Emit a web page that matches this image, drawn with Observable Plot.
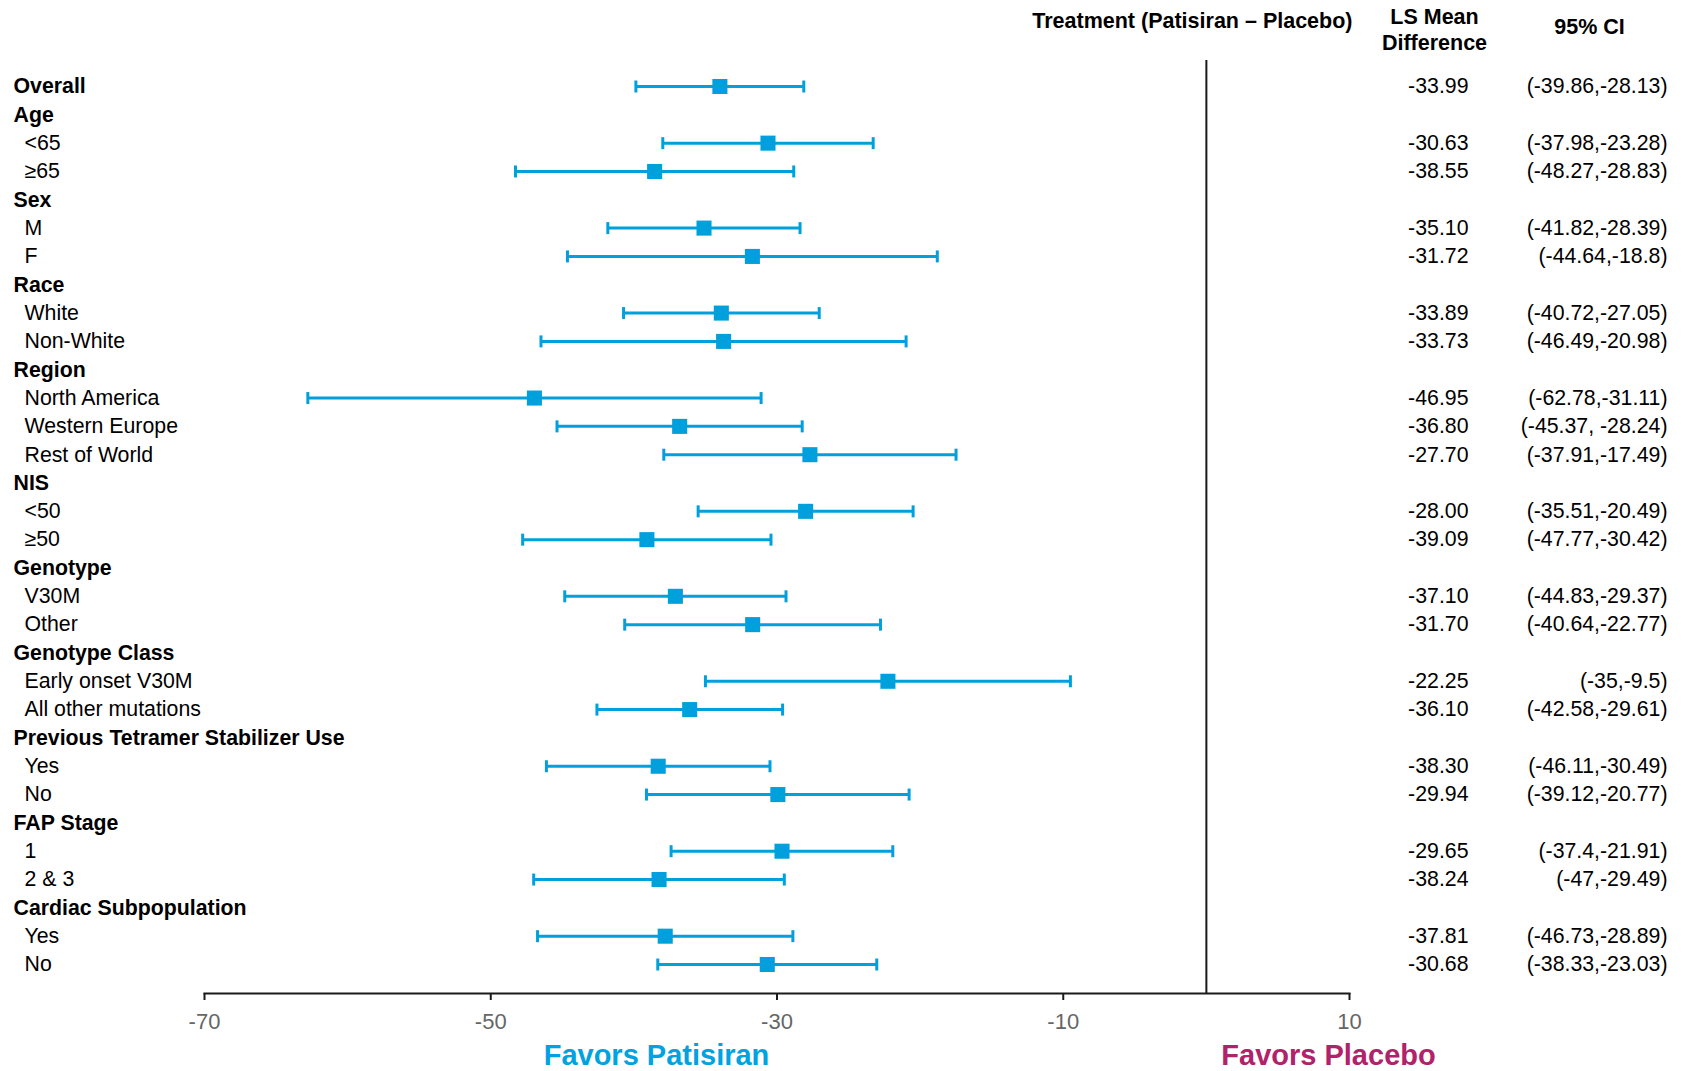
<!DOCTYPE html>
<html><head><meta charset="utf-8">
<script src="https://cdn.jsdelivr.net/npm/d3@7"></script>
<script src="https://cdn.jsdelivr.net/npm/@observablehq/plot@0.6"></script>
<style>body{margin:0;background:#fff;}</style>
</head><body><div id="chart"></div>
<script>
const labels = ["Overall","Age","<65","≥65","Sex","M","F","Race","White","Non-White","Region","North America","Western Europe","Rest of World","NIS","<50","≥50","Genotype","V30M","Other","Genotype Class","Early onset V30M","All other mutations","Previous Tetramer Stabilizer Use","Yes","No","FAP Stage","1","2 & 3","Cardiac Subpopulation","Yes","No"];
const means = [-33.99,null,-30.63,-38.55,null,-35.10,-31.72,null,-33.89,-33.73,null,-46.95,-36.80,-27.70,null,-28.00,-39.09,null,-37.10,-31.70,null,-22.25,-36.10,null,-38.30,-29.94,null,-29.65,-38.24,null,-37.81,-30.68];
const lower = [-39.86,null,-37.98,-48.27,null,-41.82,-44.64,null,-40.72,-46.49,null,-62.78,-45.37,-37.91,null,-35.51,-47.77,null,-44.83,-40.64,null,-35,-42.58,null,-46.11,-39.12,null,-37.4,-47,null,-46.73,-38.33];
const upper = [-28.13,null,-23.28,-28.83,null,-28.39,-18.8,null,-27.05,-20.98,null,-31.11,-28.24,-17.49,null,-20.49,-30.42,null,-29.37,-22.77,null,-9.5,-29.61,null,-30.49,-20.77,null,-21.91,-29.49,null,-28.89,-23.03];
const ciLabels = ["(-39.86,-28.13)",null,"(-37.98,-23.28)","(-48.27,-28.83)",null,"(-41.82,-28.39)","(-44.64,-18.8)",null,"(-40.72,-27.05)","(-46.49,-20.98)",null,"(-62.78,-31.11)","(-45.37, -28.24)","(-37.91,-17.49)",null,"(-35.51,-20.49)","(-47.77,-30.42)",null,"(-44.83,-29.37)","(-40.64,-22.77)",null,"(-35,-9.5)","(-42.58,-29.61)",null,"(-46.11,-30.49)","(-39.12,-20.77)",null,"(-37.4,-21.91)","(-47,-29.49)",null,"(-46.73,-28.89)","(-38.33,-23.03)"];
const xTicks = [-70,-50,-30,-10,10];
const headerTreatment = "Treatment (Patisiran – Placebo)";
const headerMean = "LS Mean\nDifference";
const headerCI = "95% CI";
const favorsLeft = "Favors Patisiran";
const favorsRight = "Favors Placebo";

const rows = labels.map((label, i) => ({i, label, mean: means[i], lo: lower[i], hi: upper[i], ci: ciLabels[i], bold: i === 0 || means[i] == null}));
const est = rows.filter(d => d.mean != null);

const blue = "#00a0dc";
const capSymbol = {draw(ctx, size) { ctx.moveTo(0, -6); ctx.lineTo(0, 6); }};

const chart = Plot.plot({
  width: 1682, height: 1071,
  marginLeft: 204, marginRight: 333, marginTop: 60, marginBottom: 78,
  style: {fontFamily: '"Liberation Sans", Arial, sans-serif', fontSize: "21.3px", color: "#000", background: "#fff"},
  x: {domain: [-70, 10]},
  y: {type: "point", domain: d3.range(labels.length), range: [86, 964], padding: 0, round: false, axis: null},
  marks: [
    Plot.frame({anchor: "bottom", stroke: "#1a1a1a", strokeWidth: 2}),
    Plot.axisX({ticks: xTicks, tickSize: 7, tickPadding: 13, stroke: "#1a1a1a", strokeWidth: 2, fill: "#666", fontSize: 22, label: null, tickFormat: d => String(d)}),
    Plot.ruleX([0], {stroke: "#1a1a1a", strokeWidth: 2}),
    Plot.ruleY(est, {y: "i", x1: "lo", x2: "hi", stroke: blue, strokeWidth: 3}),
    Plot.dot(est, {y: "i", x: "lo", symbol: capSymbol, stroke: blue, fill: "none", strokeWidth: 3, r: 6}),
    Plot.dot(est, {y: "i", x: "hi", symbol: capSymbol, stroke: blue, fill: "none", strokeWidth: 3, r: 6}),
    Plot.dot(est, {y: "i", x: "mean", symbol: "square", fill: blue, r: 8.5}),
    Plot.text(rows.filter(d => d.bold), {y: "i", text: "label", frameAnchor: "left", textAnchor: "start", dx: -191, fontWeight: "bold"}),
    Plot.text(rows.filter(d => !d.bold), {y: "i", text: "label", frameAnchor: "left", textAnchor: "start", dx: -180}),
    Plot.text(est, {y: "i", text: d => d.mean.toFixed(2), frameAnchor: "right", textAnchor: "end", dx: 119}),
    Plot.text(est, {y: "i", text: "ci", frameAnchor: "right", textAnchor: "end", dx: 318}),
    Plot.text([headerTreatment], {frameAnchor: "top-right", lineAnchor: "middle", textAnchor: "end", dx: 3, dy: -39, fontSize: 21.5, fontWeight: "bold"}),
    Plot.text([headerMean], {frameAnchor: "top-right", lineAnchor: "middle", textAnchor: "middle", dx: 85, dy: -32, lineHeight: 1.24, fontSize: 21.5, fontWeight: "bold"}),
    Plot.text([headerCI], {frameAnchor: "top-right", lineAnchor: "middle", textAnchor: "middle", dx: 240, dy: -33, fontSize: 21.5, fontWeight: "bold"}),
    Plot.text([favorsLeft], {frameAnchor: "bottom-left", lineAnchor: "middle", textAnchor: "middle", dx: 452, dy: 62, fill: "#00a3e0", fontSize: 29, fontWeight: "bold"}),
    Plot.text([favorsRight], {frameAnchor: "bottom-right", lineAnchor: "middle", textAnchor: "middle", dx: -21, dy: 62, fill: "#b0226a", fontSize: 29, fontWeight: "bold"})
  ]
});
document.getElementById("chart").appendChild(chart);
</script>
</body></html>
